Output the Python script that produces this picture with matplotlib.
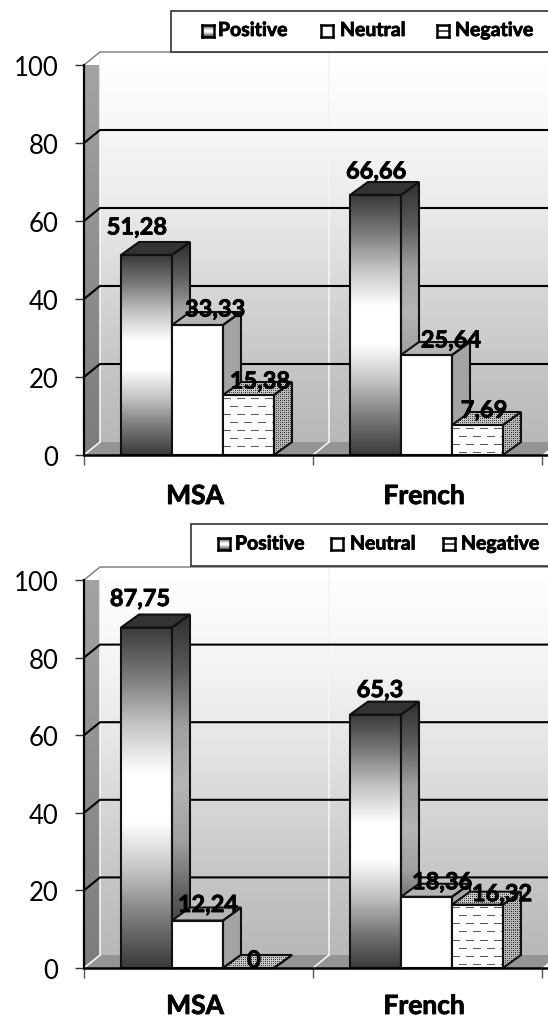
import numpy as np
import matplotlib
matplotlib.use("Agg")
import matplotlib.pyplot as plt
import matplotlib.patheffects as pe
from matplotlib.patches import Polygon, Rectangle

plt.rcParams['font.family'] = ['Lato', 'DejaVu Sans']

categories = ["MSA", "French"]
series_names = ["Positive", "Neutral", "Negative"]
y_ticks = [0, 20, 40, 60, 80, 100]

top_positive = [51.28, 66.66]
top_neutral = [33.33, 25.64]
top_negative = [15.38, 7.69]
top_labels = [["51,28", "66,66"], ["33,33", "25,64"], ["15,38", "7,69"]]

bottom_positive = [87.75, 65.3]
bottom_neutral = [12.24, 18.36]
bottom_negative = [0, 16.32]
bottom_labels = [["87,75", "65,3"], ["12,24", "18,36"], ["0", "16,32"]]

# Label nudges in pixels from the back-top-left corner of each bar: [series][category]
top_nudges = [[(0, 15), (10, 11)], [(27, 3), (34, 2)], [(21, 1), (16, 2)]]
bottom_nudges = [[(3, 16), (14, 12)], [(20, 3), (25, 2)], [(15, -5), (34, -2)]]

W, H = 548, 1020
CAT_PX = 229
BAR_PX = 51
BAR_START_PX = 37
WALL_DX, WALL_DY = 16, 13
BAR_DX = 18

FRONT_CMAP = matplotlib.colors.LinearSegmentedColormap.from_list(
    "metal", ["#3a3a3a", "#7a7a7a", "#c4c4c4", "#ffffff", "#ffffff", "#c4c4c4", "#7a7a7a", "#3a3a3a"])
SIDE_CMAP = matplotlib.colors.LinearSegmentedColormap.from_list(
    "metal_side", ["#2e2e2e", "#5c5c5c", "#a0a0a0", "#b5b5b5", "#a0a0a0", "#5c5c5c", "#2e2e2e"])
WALL_CMAP = matplotlib.colors.LinearSegmentedColormap.from_list(
    "wall", ["#ffffff", "#f7f7f7", "#eaeaea", "#d8d8d8", "#c6c6c6", "#b8b8b8"])
SIDE_WALL_CMAP = matplotlib.colors.LinearSegmentedColormap.from_list(
    "side_wall", ["#a4a4a4", "#7c7c7c"])

# Thickens the bold face a little
HEAVY = [pe.withStroke(linewidth=0.6, foreground="black")]


def dash_texture(h, w):
    tex = np.ones((h, w))
    for row, y in enumerate(range(3, h, 8)):
        shift = 7 if row % 2 else 0
        for x in range(-14, w, 14):
            a, b = x + shift, x + shift + 8
            tex[y, max(a, 0):max(min(b, w), 0)] = 0.35
    return tex


def dot_texture(h, w, base=0.72):
    tex = np.full((h, w), base)
    yy, xx = np.mgrid[0:h, 0:w]
    tex[((xx + yy) % 4 == 0) & ((xx - yy) % 4 == 0)] = 0.15
    tex[((xx + yy) % 4 == 2) & ((xx - yy) % 4 == 2)] = 0.35
    return tex


def make_chart(y0_px, y100_px, legend_box, swatches, series, labels, nudges, cat_y_px):
    px_y = (y0_px - y100_px) / 100.0
    x_max = (W - 84) / CAT_PX
    ax = fig.add_axes([84 / W, 1 - y0_px / H, (W - 84) / W, (y0_px - y100_px) / H])
    ax.set_xlim(0, x_max)
    ax.set_ylim(0, 100)
    ax.patch.set_visible(False)
    for s in ("top", "right"):
        ax.spines[s].set_visible(False)
    ax.spines["left"].set_linewidth(1.6)
    ax.spines["bottom"].set_linewidth(1.8)
    for s in ("left", "bottom"):
        ax.spines[s].set_zorder(50)

    wall_dx, wall_dy = WALL_DX / CAT_PX, WALL_DY / px_y
    bar_dx, bar_w = BAR_DX / CAT_PX, BAR_PX / CAT_PX

    def fill_image(data, poly_pts, extent, z, **kw):
        poly = Polygon(poly_pts, closed=True, transform=ax.transData)
        im = ax.imshow(data, extent=extent, aspect="auto", zorder=z, origin="upper", **kw)
        im.set_clip_path(poly)
        im.set_clip_on(True)

    # back wall, side wall and floor
    top = 100 + wall_dy
    fill_image(np.linspace(0, 1, 256)[:, None],
               [(wall_dx, wall_dy), (wall_dx, top), (2 + wall_dx, top), (2 + wall_dx, wall_dy)],
               (wall_dx, 2 + wall_dx, wall_dy, top), 1, cmap=WALL_CMAP, vmin=0, vmax=1)
    fill_image(np.linspace(0, 1, 256)[:, None],
               [(0, 0), (0, 100), (wall_dx, top), (wall_dx, wall_dy)],
               (0, wall_dx, 0, top), 1, cmap=SIDE_WALL_CMAP, vmin=0, vmax=1)
    ax.add_patch(Polygon([(0, 0), (wall_dx, wall_dy), (2 + wall_dx, wall_dy), (2, 0)],
                         closed=True, fc="#949494", ec="none", zorder=1, clip_on=False))

    # pale seams where the wall panels meet
    for c in (0, 1):
        ax.plot([c + wall_dx, c + wall_dx], [wall_dy, top], color="#f4f4f4", lw=1.2, zorder=2, clip_on=False)
        ax.plot([c, c + wall_dx], [0, wall_dy], color="#f4f4f4", lw=1.2, zorder=2, clip_on=False)

    # grid lines wrap around the side wall
    for v in y_ticks[1:]:
        color, lw = ("black", 1.5) if v < 100 else ("#777777", 1.0)
        ax.plot([0, wall_dx, x_max], [v, v + wall_dy, v + wall_dy],
                color=color, lw=lw, zorder=3, clip_on=False)

    # bars, left to right so each front covers its neighbour's side
    z = 10
    n_series = len(series)
    for si in range(n_series):
        for ci, v in enumerate(series[si]):
            x0 = ci + (BAR_START_PX + si * BAR_PX) / CAT_PX
            x1 = x0 + bar_w
            front = [(x0, 0), (x0, v), (x1, v), (x1, 0)]
            side = [(x1, 0), (x1, v), (x1 + bar_dx, v + wall_dy), (x1 + bar_dx, wall_dy)]
            lid = [(x0, v), (x0 + bar_dx, v + wall_dy), (x1 + bar_dx, v + wall_dy), (x1, v)]
            zbar = z + ci * 3 + si
            if si == 0:
                fill_image(np.linspace(0, 1, 256)[:, None], front, (x0, x1, 0, v), zbar,
                           cmap=FRONT_CMAP, vmin=0, vmax=1)
                fill_image(np.linspace(0, 1, 256)[:, None], side, (x1, x1 + bar_dx, wall_dy, v + wall_dy), zbar,
                           cmap=SIDE_CMAP, vmin=0, vmax=1)
                ax.add_patch(Polygon(lid, closed=True, fc="#333333", ec="none", zorder=zbar, clip_on=False))
            elif si == 1:
                ax.add_patch(Polygon(front, closed=True, fc="white", ec="none", zorder=zbar))
                ax.add_patch(Polygon(side, closed=True, fc="#a3a3a3", ec="none", zorder=zbar, clip_on=False))
                ax.add_patch(Polygon(lid, closed=True, fc="#b4b4b4", ec="none", zorder=zbar, clip_on=False))
            else:
                h_px = max(int(round(v * px_y)), 0)
                if h_px > 0:
                    fill_image(dash_texture(h_px, BAR_PX), front, (x0, x1, 0, v), zbar,
                               cmap="gray", vmin=0, vmax=1, interpolation="nearest")
                    fill_image(dot_texture(h_px + WALL_DY, BAR_DX), side,
                               (x1, x1 + bar_dx, 0, v + wall_dy), zbar,
                               cmap="gray", vmin=0, vmax=1, interpolation="nearest")
                fill_image(dot_texture(WALL_DY, BAR_PX + BAR_DX, 0.78), lid,
                           (x0, x1 + bar_dx, v, v + wall_dy), zbar,
                           cmap="gray", vmin=0, vmax=1, interpolation="nearest")
            for pts in (front, side, lid):
                ax.add_patch(Polygon(pts, closed=True, fc="none", ec="#111111", lw=1.5,
                                     zorder=zbar + 0.5, clip_on=False, joinstyle="miter"))
            nx, ny = nudges[si][ci]
            ax.annotate(labels[si][ci], (x0, v + wall_dy), xytext=(nx + 16, ny),
                        textcoords="offset pixels", ha="center", va="center",
                        fontsize=17, fontweight="bold", color="black", zorder=40,
                        annotation_clip=False, path_effects=HEAVY)

    ax.set_xlim(0, x_max)
    ax.set_ylim(0, 100)

    ax.set_yticks(y_ticks)
    ax.tick_params(axis="y", labelsize=18.5, length=6.5, width=1.0, pad=12, color="#333333")
    ax.set_xticks([0, 1, 2])
    ax.set_xticklabels([])
    ax.tick_params(axis="x", length=7, width=1.0, color="#555555")
    for i, name in enumerate(categories):
        ax.text(i + 0.485, -(cat_y_px - y0_px) / (y0_px - y100_px), name,
                transform=ax.get_xaxis_transform(),
                va="center", ha="center", fontsize=19, fontweight="bold", zorder=40,
                path_effects=HEAVY)

    # legend strip, running off the right side of the figure
    bx, by0, by1 = legend_box
    fig.add_artist(Rectangle((bx / W, 1 - by1 / H), (W + 10 - bx) / W, (by1 - by0) / H,
                             transform=fig.transFigure, fc="white", ec="#333333", lw=1.2, zorder=5))
    ymid = (by0 + by1) / 2 - 1
    for k, (sx, tx, name) in enumerate(swatches):
        sw = fig.add_axes([(sx - 6) / W, 1 - (ymid + 6) / H, 12 / W, 12 / H], zorder=6)
        sw.set_xticks([])
        sw.set_yticks([])
        if k == 0:
            sw.imshow(np.linspace(0, 1, 32)[:, None], cmap=FRONT_CMAP, aspect="auto", vmin=0, vmax=1)
        elif k == 2:
            band = np.ones((12, 12))
            band[5:7, :] = 0.3
            sw.imshow(band, cmap="gray", aspect="auto", vmin=0, vmax=1, interpolation="nearest")
        else:
            sw.set_facecolor("white")
        for s in sw.spines.values():
            s.set_linewidth(1.8)
        fig.text(tx / W, 1 - ymid / H, name, fontsize=14, fontweight="bold",
                 va="center", ha="left", zorder=7, path_effects=HEAVY)


fig = plt.figure(figsize=(W / 100, H / 100), dpi=100, facecolor="white")

make_chart(456, 66, (171, 12, 53),
           [(208, 218, series_names[0]), (327, 340, series_names[1]), (443, 455, series_names[2])],
           [top_positive, top_neutral, top_negative], top_labels, top_nudges, 497)

make_chart(969, 581, (191, 525, 567),
           [(224, 235, series_names[0]), (337, 350, series_names[1]), (449, 461, series_names[2])],
           [bottom_positive, bottom_neutral, bottom_negative], bottom_labels, bottom_nudges, 1007)

fig.savefig("out.png", dpi=100)
